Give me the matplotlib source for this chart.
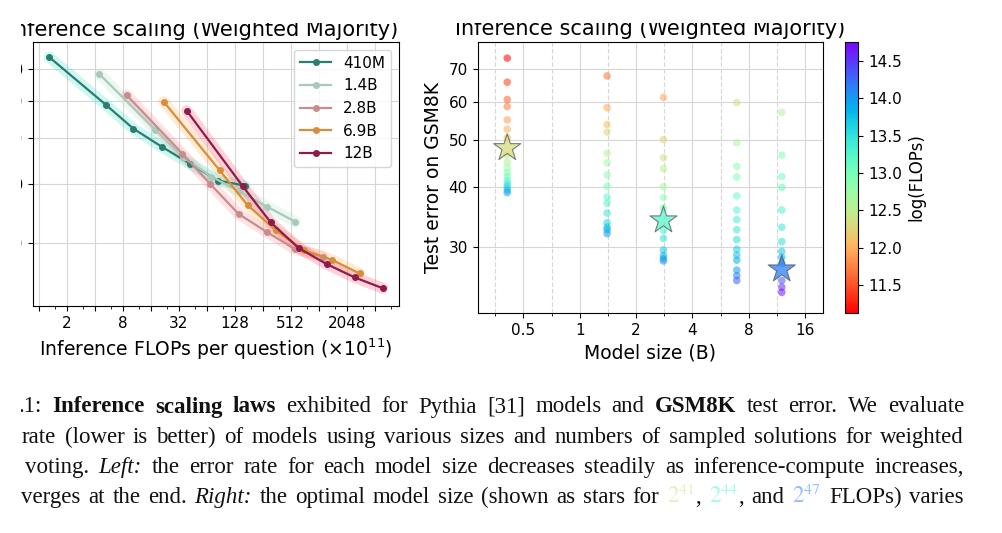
import numpy as np
import matplotlib
matplotlib.use("Agg")
import matplotlib.pyplot as plt
from matplotlib.colors import Normalize
from matplotlib.cm import ScalarMappable
from matplotlib.patches import Rectangle
from matplotlib.ticker import FixedLocator, FixedFormatter, NullLocator, NullFormatter

plt.rcParams['font.family'] = ['DejaVu Sans']

# ---------------- left panel: error vs inference flops (x1e11) ----------------
models = ["410M", "1.4B", "2.8B", "6.9B", "12B"]
line_colors = ["#2b7d72", "#a9c9bb", "#c98c8c", "#d98c3e", "#8c1c4c"]
glow_colors = ["#3fe3c8", "#b5e8cf", "#ff8f9a", "#ffb45a", "#ff4f6e"]

flops_410m = [1.3, 5.3, 10.4, 21, 42, 85, 165]
err_410m = [74.2, 58.8, 52.4, 48.0, 44.2, 40.7, 39.7]
flops_1_4b = [4.5, 18, 36, 72, 144, 288, 576]
err_1_4b = [68.3, 52.1, 45.5, 41.5, 38.6, 35.8, 33.3]
flops_2_8b = [8.8, 35, 70, 141, 282, 563, 1126]
err_2_8b = [61.7, 46.4, 40.0, 34.6, 31.7, 29.2, 28.1]
flops_6_9b = [22, 88, 176, 352, 704, 1408, 2816]
err_6_9b = [59.8, 42.8, 36.1, 32.0, 29.0, 27.7, 25.9]
flops_12b = [39, 156, 312, 624, 1248, 2496, 4992]
err_12b = [57.2, 39.6, 33.2, 29.3, 27.1, 25.4, 24.1]

# ---------------- right panel: error vs model size, colour = log10 flops ----------------
model_size = [0.41, 1.4, 2.8, 6.9, 12]
lf_410m = [11.12, 11.40, 11.58, 11.70, 11.88, 12.00, 12.15, 12.45, 12.60, 12.75,
           12.90, 13.05, 13.20, 13.40, 13.60, 13.80, 13.95]
e_410m = [73.8, 65.8, 60.6, 58.6, 55.0, 52.6, 50.5, 46.5, 45.0, 43.8,
          42.8, 42.0, 41.2, 40.6, 40.0, 39.4, 38.9]
lf_1_4b = [11.65, 11.95, 12.10, 12.25, 12.55, 12.70, 12.85, 13.00, 13.15, 13.30,
           13.45, 13.60, 13.75, 13.85, 13.95]
e_1_4b = [67.8, 58.3, 53.8, 51.9, 46.9, 44.8, 42.3, 40.1, 38.1, 37.0,
          35.3, 33.7, 33.0, 32.6, 32.0]
lf_2_8b = [11.94, 12.25, 12.40, 12.55, 12.70, 12.85, 13.00, 13.35, 13.50, 13.70,
           13.85, 13.95, 14.05]
e_2_8b = [61.2, 50.1, 45.9, 43.6, 40.0, 38.0, 36.2, 32.5, 31.3, 29.6,
          28.8, 28.4, 28.1]
lf_6_9b = [12.34, 12.64, 12.80, 12.94, 13.10, 13.25, 13.35, 13.45, 13.55, 13.65,
           13.75, 13.85, 14.00, 14.15, 14.30]
e_6_9b = [59.7, 49.3, 44.1, 41.9, 38.3, 35.8, 34.2, 32.6, 31.1, 29.7,
          28.9, 28.2, 26.9, 26.2, 25.6]
lf_12b = [12.59, 12.90, 13.05, 13.15, 13.30, 13.45, 13.55, 13.70, 13.80, 13.95,
          14.35, 14.55, 14.70]
e_12b = [57.0, 46.5, 42.0, 39.9, 35.8, 33.0, 30.8, 29.4, 28.6, 27.8,
         25.6, 24.8, 24.2]

star_size = [0.41, 2.8, 12]
star_err = [48.1, 34.1, 27.0]
star_lf = [12.34, 13.25, 14.15]   # 2^41, 2^44, 2^47 flops

left_xticks = [2, 8, 32, 128, 512, 2048]
right_xticks = [0.5, 1, 2, 4, 8, 16]
yticks = [30, 40, 50, 60, 70]

W, H = 1003, 533
fig = plt.figure(figsize=(W / 100, H / 100), dpi=100)


def box(x0, y0, x1, y1):
    return [x0 / W, 1 - y1 / H, (x1 - x0) / W, (y1 - y0) / H]


ax1 = fig.add_axes(box(33.3, 42, 399, 306))
ax2 = fig.add_axes(box(477.7, 41.7, 823.3, 313.3))
cax = fig.add_axes(box(845, 41.7, 858.3, 313.3))

left_flops = [flops_410m, flops_1_4b, flops_2_8b, flops_6_9b, flops_12b]
left_err = [err_410m, err_1_4b, err_2_8b, err_6_9b, err_12b]

for fl, er, g in zip(left_flops, left_err, glow_colors):
    ax1.plot(fl, er, color=g, lw=8, alpha=0.25, solid_capstyle='round', zorder=2)
for name, fl, er, c in zip(models, left_flops, left_err, line_colors):
    ax1.plot(fl, er, color=c, lw=1.6, marker='o', ms=4, label=name, zorder=3)

ax1.set_xscale('log', base=2)
ax1.set_yscale('log')
ax1.set_xlim(0.874, 7480)
ax1.set_ylim(22.1, 79.9)
all_pow = [2.0 ** k for k in range(0, 13)]
ax1.xaxis.set_major_locator(FixedLocator(all_pow))
ax1.xaxis.set_major_formatter(FixedFormatter(
    [str(int(v)) if int(v) in left_xticks else '' for v in all_pow]))
ax1.xaxis.set_minor_locator(FixedLocator([3 * 2.0 ** k for k in range(-1, 12)]))
ax1.xaxis.set_minor_formatter(NullFormatter())
ax1.yaxis.set_major_locator(FixedLocator(yticks))
ax1.yaxis.set_major_formatter(FixedFormatter([str(v) for v in yticks]))
ax1.yaxis.set_minor_locator(NullLocator())
ax1.grid(True, which='major', color='#d6d6d6', lw=0.8)
ax1.set_axisbelow(True)
ax1.tick_params(labelsize=11)
ax1.set_xlabel(r"Inference FLOPs per question ($\times10^{11}$)", fontsize=13.5)
ax1.set_title("Inference scaling (Weighted Majority)", fontsize=15, pad=4.5, x=0.464)
ax1.legend(loc='upper right', fontsize=11)

norm = Normalize(vmin=11.12, vmax=14.76)
cmap = plt.get_cmap('rainbow_r')
right_lf = [lf_410m, lf_1_4b, lf_2_8b, lf_6_9b, lf_12b]
right_err = [e_410m, e_1_4b, e_2_8b, e_6_9b, e_12b]
for size, lf, er in zip(model_size, right_lf, right_err):
    ax2.scatter(np.full(len(lf), size), er, c=lf, cmap=cmap, norm=norm, s=30,
                alpha=0.55, edgecolors='none', zorder=3)
ax2.scatter(star_size, star_err, c=star_lf, cmap=cmap, norm=norm, marker='*', s=420,
            edgecolors='#555555', linewidths=0.8, alpha=0.75, zorder=4)

ax2.set_xscale('log', base=2)
ax2.set_yscale('log')
ax2.set_xlim(0.285, 20.0)
ax2.set_ylim(21.9, 79.8)
ax2.xaxis.set_major_locator(FixedLocator(right_xticks))
ax2.xaxis.set_major_formatter(FixedFormatter([str(v) for v in right_xticks]))
ax2.xaxis.set_minor_locator(FixedLocator([2.0 ** (k + 0.5) for k in range(-3, 5)]))
ax2.xaxis.set_minor_formatter(NullFormatter())
ax2.yaxis.set_major_locator(FixedLocator(yticks))
ax2.yaxis.set_major_formatter(FixedFormatter([str(v) for v in yticks]))
ax2.yaxis.set_minor_locator(NullLocator())
ax2.grid(True, which='major', color='#d6d6d6', lw=0.8)
ax2.grid(True, which='minor', axis='x', color='#d6d6d6', lw=0.8, ls=(0, (4, 2)))
ax2.set_axisbelow(True)
ax2.tick_params(labelsize=11)
ax2.set_xlabel("Model size (B)", fontsize=13.5)
ax2.set_ylabel("Test error on GSM8K", fontsize=13.5)
ax2.set_title("Inference scaling (Weighted Majority)", fontsize=15, pad=4.5)

cb = fig.colorbar(ScalarMappable(norm=norm, cmap=cmap), cax=cax)
cb.set_label("log(FLOPs)", fontsize=12)
cb.ax.tick_params(labelsize=11)

# ---------------- caption below the panels ----------------
base = dict(family='Liberation Serif', fontsize=16.5, color='#111111')
BOLD = {'fontweight': 'bold'}
ITAL = {'fontstyle': 'italic'}
NORM = {}
pow_style = [{'color': cmap(norm(v)), 'alpha': 0.5, 'math_fontfamily': 'stix'} for v in star_lf]

caption = [
    (19, 412.5, [(".1: ", NORM), ("Inference scaling laws", BOLD),
                 (" exhibited for Pythia [31] models and ", NORM), ("GSM8K", BOLD),
                 (" test error. We evaluate", NORM)]),
    (22, 442.7, [("rate (lower is better) of models using various sizes and numbers "
                  "of sampled solutions for weighted", NORM)]),
    (25, 472.7, [("voting. ", NORM), ("Left:", ITAL),
                 (" the error rate for each model size decreases steadily as "
                  "inference-compute increases,", NORM)]),
    (21, 502.7, [("verges at the end. ", NORM), ("Right:", ITAL),
                 (" the optimal model size (shown as stars for ", NORM),
                 (r"$2^{41}$", pow_style[0]), (", ", NORM), (r"$2^{44}$", pow_style[1]),
                 (", and ", NORM), (r"$2^{47}$", pow_style[2]), (" FLOPs) varies", NORM)]),
]

renderer = fig.canvas.get_renderer()


def text_width(s, st):
    t = fig.text(0, 0, s, **{**base, **st})
    w = t.get_window_extent(renderer).width
    t.remove()
    return w


space_w = text_width("x x", NORM) - text_width("xx", NORM)


def draw_line(x0, y, runs, right=964):
    tokens = []
    gap = False
    for txt, st in runs:
        parts = txt.split(' ')
        for i, p in enumerate(parts):
            if i > 0:
                gap = True
            if p:
                tokens.append((p, st, gap and len(tokens) > 0))
                gap = False
    widths = [text_width(p, st) for p, st, _ in tokens]
    ngaps = sum(1 for t in tokens if t[2])
    extra = (right - x0 - sum(widths) - ngaps * space_w) / max(ngaps, 1)
    x = x0
    for (p, st, g), w in zip(tokens, widths):
        if g:
            x += space_w + extra
        fig.text(x / W, 1 - y / H, p, va='baseline', ha='left', **{**base, **st})
        x += w


for x0, y, runs in caption:
    draw_line(x0, y, runs)

# the screenshot is cut on the left and top edges
fig.add_artist(Rectangle((0, 0), 21 / W, 1, transform=fig.transFigure,
                         facecolor='white', edgecolor='none', zorder=20))
fig.add_artist(Rectangle((0, 1 - 22.5 / H), 1, 22.5 / H, transform=fig.transFigure,
                         facecolor='white', edgecolor='none', zorder=20))

fig.savefig("out.png", dpi=100)
